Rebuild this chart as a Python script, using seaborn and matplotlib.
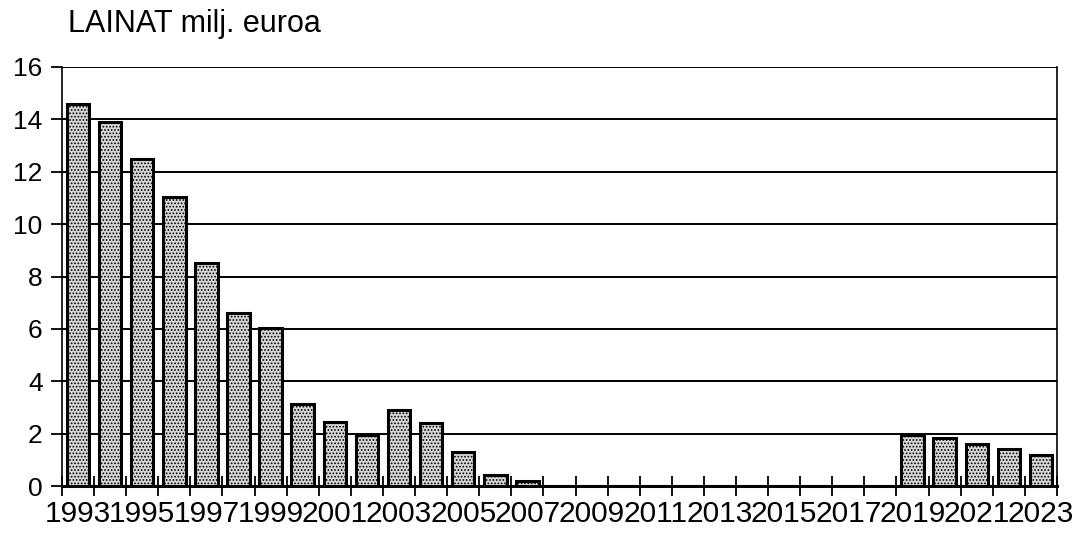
import matplotlib
matplotlib.use("Agg")
import matplotlib.pyplot as plt
import seaborn as sns
import pandas as pd
import numpy as np

years = list(range(1993, 2024))
values = [14.6, 13.9, 12.5, 11.05, 8.5, 6.6, 6.05, 3.15, 2.45, 1.95, 2.9, 2.4, 1.3, 0.42, 0.2,
          0, 0, 0, 0, 0, 0, 0, 0, 0, 0, 0,
          1.95, 1.85, 1.6, 1.4, 1.18]
title = "LAINAT milj. euroa"
yticks = [0, 2, 4, 6, 8, 10, 12, 14, 16]

sns.set_theme(style="white")
plt.rcParams['font.family'] = ['Liberation Sans', 'DejaVu Sans']
plt.rcParams['hatch.linewidth'] = 0.8
plt.rcParams['text.color'] = 'black'
plt.rcParams['xtick.color'] = 'black'
plt.rcParams['ytick.color'] = 'black'

df = pd.DataFrame({"year": [str(y) for y in years], "value": values})

fig = plt.figure(figsize=(10.78, 5.39), dpi=100)
ax = fig.add_axes([0.0575, 0.0983, 0.923, 0.7774])

sns.barplot(data=df, x="year", y="value", order=df["year"], color="#d6d6d6",
            edgecolor="black", linewidth=2.2, width=0.7, saturation=1, ax=ax, zorder=3)
for p in ax.patches:
    p.set_hatch(".....")

ax.set_ylim(0, 16)
ax.set_yticks(yticks)
ax.set_yticklabels([str(t) for t in yticks], fontsize=19, color="black")
ax.yaxis.grid(True, color="black", linewidth=1.4, zorder=0)
ax.set_axisbelow(True)

ax.set_xlim(-0.5, len(years) - 0.5)
ax.set_xticks(range(0, len(years), 2))
ax.set_xticklabels([str(y) for y in years[::2]], fontsize=21.5, color="black")
ax.set_xticks(np.arange(-0.5, len(years), 1), minor=True)
ax.tick_params(axis="x", which="major", length=0, pad=10)
ax.tick_params(axis="x", which="minor", direction="inout", length=14, width=1.3, color="black", bottom=True)
ax.tick_params(axis="y", which="major", direction="out", length=8, width=1.3, color="black", left=True, pad=6)

ax.set_xlabel("")
ax.set_ylabel("")
for s in ["left", "bottom", "right"]:
    ax.spines[s].set_visible(True)
    ax.spines[s].set_color("black")
ax.spines["left"].set_linewidth(1.2)
ax.spines["right"].set_linewidth(1.2)
ax.spines["bottom"].set_linewidth(2.2)
ax.spines["top"].set_visible(False)

fig.text(0.063, 0.955, title, fontsize=22, ha="left", va="center", color="black")

fig.savefig("out.png", dpi=100, facecolor="white")
